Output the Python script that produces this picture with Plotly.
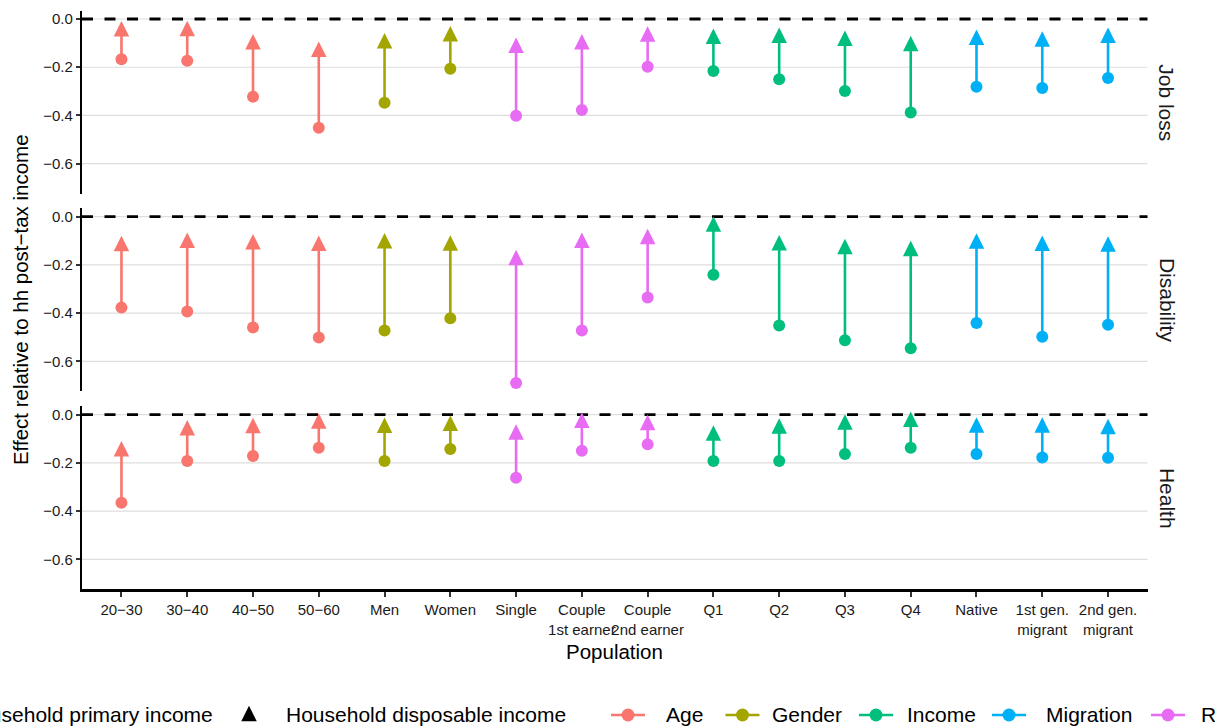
import plotly.graph_objects as go

# ---------------- data ----------------
categories = ["20−30", "30−40", "40−50", "50−60", "Men", "Women", "Single",
              "Couple<br>1st earner", "Couple<br>2nd earner", "Q1", "Q2", "Q3", "Q4",
              "Native", "1st gen.<br>migrant", "2nd gen.<br>migrant"]
groups = ["Age", "Age", "Age", "Age", "Gender", "Gender",
          "Relationship", "Relationship", "Relationship",
          "Income", "Income", "Income", "Income",
          "Migration", "Migration", "Migration"]
facets = ["Job loss", "Disability", "Health"]
group_order = ["Age", "Gender", "Income", "Migration", "Relationship"]
group_colors = ["#F8766D", "#A3A500", "#00BF7D", "#00B0F6", "#E76BF3"]
measure_labels = ["Household primary income", "Household disposable income"]
y_ticks = [-0.6, -0.4, -0.2, 0.0]

primary_job = [-0.167, -0.173, -0.322, -0.451, -0.347, -0.206, -0.401, -0.377,
               -0.198, -0.216, -0.250, -0.299, -0.388, -0.281, -0.286, -0.245]
disposable_job = [-0.051, -0.050, -0.105, -0.136, -0.101, -0.072, -0.119, -0.105,
                  -0.073, -0.082, -0.078, -0.090, -0.112, -0.086, -0.094, -0.078]
primary_dis = [-0.377, -0.393, -0.459, -0.501, -0.472, -0.421, -0.690, -0.472,
               -0.335, -0.241, -0.451, -0.512, -0.546, -0.441, -0.498, -0.448]
disposable_dis = [-0.122, -0.108, -0.115, -0.121, -0.110, -0.120, -0.180, -0.108,
                  -0.093, -0.041, -0.119, -0.134, -0.142, -0.111, -0.121, -0.124]
primary_health = [-0.365, -0.192, -0.171, -0.137, -0.192, -0.142, -0.261, -0.149,
                  -0.123, -0.192, -0.192, -0.163, -0.137, -0.163, -0.177, -0.178]
disposable_health = [-0.152, -0.065, -0.055, -0.037, -0.054, -0.046, -0.082, -0.034,
                     -0.043, -0.087, -0.057, -0.041, -0.029, -0.053, -0.053, -0.060]

primary = [primary_job, primary_dis, primary_health]
disposable = [disposable_job, disposable_dis, disposable_health]

# ---------------- layout constants ----------------
W, H = 1215, 728
PLOT_L, PLOT_R = 82, 1147.5
PANEL_TOPS = [10.7, 208.4, 406.4]
PANEL_H = 183.0
FONT = "Liberation Sans, Arial, Helvetica, sans-serif"
TICK_SIZE = 15
TITLE_SIZE = 20.5
STRIP_SIZE = 21
LEGEND_SIZE = 21
CIRCLE_SIZE = 12
TRI_SIZE = 15.5
SEG_W = 2.6
GRID_COLOR = "#DEDEDE"

color_of = dict(zip(group_order, group_colors))

allv = [v for s in primary + disposable for v in s] + [0.0]
lo, hi = min(allv), max(allv)
pad = 0.05 * (hi - lo)
yrange = [lo - pad, hi + pad]


def axid(letter, n):
    return letter if n == 1 else f"{letter}{n}"


def tri_marker(color, size):
    # filled triangle centred on its centroid (like R's pch 17)
    return dict(symbol="arrow-down", angle=180, standoff=size * 2 / 3,
                size=size, color=color, line=dict(width=0))


fig = go.Figure()

for i in range(3):
    xa, ya = axid("x", i + 1), axid("y", i + 1)
    for g in group_order:
        xs, ys = [], []
        for c, gg, p, d in zip(categories, groups, primary[i], disposable[i]):
            if gg == g:
                xs += [c, c, None]
                ys += [p, d, None]
        fig.add_trace(go.Scatter(x=xs, y=ys, mode="lines", xaxis=xa, yaxis=ya,
                                 line=dict(color=color_of[g], width=SEG_W),
                                 showlegend=False, hoverinfo="skip"))
    cols = [color_of[g] for g in groups]
    fig.add_trace(go.Scatter(x=categories, y=primary[i], mode="markers", xaxis=xa, yaxis=ya,
                             marker=dict(symbol="circle", size=CIRCLE_SIZE, color=cols,
                                         line=dict(width=0)),
                             name=measure_labels[0], showlegend=False))
    fig.add_trace(go.Scatter(x=categories, y=disposable[i], mode="markers", xaxis=xa, yaxis=ya,
                             marker=tri_marker(cols, TRI_SIZE),
                             name=measure_labels[1], showlegend=False))

# ---------------- legend (manual, single row, clipped like the original) ----------------
LEG_Y = 715
circle_key_x, tri_key_x = -70, 249
primary_text_right, disposable_text_left = 215, 284
color_key_x = [628, 742.5, 876, 1009, 1168]
color_text_x = [663.5, 769.5, 905, 1044, 1199]

fig.add_trace(go.Scatter(x=[circle_key_x], y=[LEG_Y], mode="markers", xaxis="x4", yaxis="y4",
                         marker=dict(symbol="circle", size=13, color="black"),
                         showlegend=False, hoverinfo="skip", cliponaxis=False))
fig.add_trace(go.Scatter(x=[tri_key_x], y=[LEG_Y + 1], mode="markers", xaxis="x4", yaxis="y4",
                         marker=tri_marker("black", TRI_SIZE),
                         showlegend=False, hoverinfo="skip", cliponaxis=False))
for g, cx in zip(group_order, color_key_x):
    fig.add_trace(go.Scatter(x=[cx - 17, cx, cx + 17], y=[LEG_Y, LEG_Y, LEG_Y],
                             mode="lines", xaxis="x4", yaxis="y4",
                             line=dict(color=color_of[g], width=SEG_W),
                             showlegend=False, hoverinfo="skip", cliponaxis=False))
    fig.add_trace(go.Scatter(x=[cx], y=[LEG_Y], mode="markers", xaxis="x4", yaxis="y4",
                             marker=dict(symbol="circle", size=13, color=color_of[g]),
                             showlegend=False, hoverinfo="skip", cliponaxis=False))

annotations = []


def ann(text, x, y, size, xanchor="center", angle=0, color="black"):
    annotations.append(dict(text=text, x=x, y=y, xref="x4", yref="y4", showarrow=False,
                            xanchor=xanchor, yanchor="middle", textangle=angle,
                            font=dict(family=FONT, size=size, color=color)))


ann(measure_labels[0], primary_text_right, LEG_Y - 1, LEGEND_SIZE, xanchor="right")
ann(measure_labels[1], disposable_text_left, LEG_Y - 1, LEGEND_SIZE, xanchor="left")
for g, tx in zip(group_order, color_text_x):
    ann(g, tx, LEG_Y - 1, LEGEND_SIZE, xanchor="left")

plot_mid_y = (PANEL_TOPS[0] + PANEL_TOPS[2] + PANEL_H) / 2
ann("Effect relative to hh post−tax income", 20, plot_mid_y, TITLE_SIZE, angle=-90)
ann("Population", (PLOT_L + PLOT_R) / 2, 651, TITLE_SIZE)
for f, top in zip(facets, PANEL_TOPS):
    ann(f, 1167, top + PANEL_H / 2, STRIP_SIZE, angle=90, color="#1A1A1A")

# ---------------- axes ----------------
layout = dict(
    width=W, height=H,
    margin=dict(l=0, r=0, t=0, b=0, pad=0),
    paper_bgcolor="white", plot_bgcolor="rgba(0,0,0,0)",
    showlegend=False,
    font=dict(family=FONT, color="#1A1A1A"),
    annotations=annotations,
    shapes=[],
)

xdom = [PLOT_L / W, PLOT_R / W]
for i, top in enumerate(PANEL_TOPS):
    n = i + 1
    xname, yname = axid("x", n), axid("y", n)
    ydom = [1 - (top + PANEL_H) / H, 1 - top / H]
    last = (i == 2)
    layout[xname.replace("x", "xaxis")] = dict(
        domain=xdom, anchor=yname, type="category",
        categoryorder="array", categoryarray=categories,
        range=[-0.6, len(categories) - 0.4],
        showgrid=False, zeroline=False,
        showline=last, linecolor="black", linewidth=2.5,
        ticks="outside" if last else "", ticklen=5, tickwidth=1.5, tickcolor="#333333",
        showticklabels=last, tickangle=0,
        tickfont=dict(family=FONT, size=TICK_SIZE, color="#1A1A1A"),
        fixedrange=True,
    )
    layout[yname.replace("y", "yaxis")] = dict(
        domain=ydom, anchor=xname, range=yrange,
        tickvals=y_ticks, tickformat=".1f",
        showgrid=False, zeroline=False,
        showline=True, linecolor="black", linewidth=2.2,
        ticks="outside", ticklen=4, tickwidth=1.5, tickcolor="#333333",
        tickfont=dict(family=FONT, size=TICK_SIZE, color="#1A1A1A"),
        fixedrange=True,
    )
    # horizontal grid lines (drawn as shapes so they align exactly with the reference line)
    for tv in y_ticks:
        layout["shapes"].append(dict(type="line", xref=f"{xname} domain", x0=0, x1=1,
                                     yref=yname, y0=tv, y1=tv, layer="below",
                                     line=dict(color=GRID_COLOR, width=1.2)))
    layout["shapes"].append(dict(type="line", xref=f"{xname} domain", x0=0, x1=1,
                                 yref=yname, y0=0, y1=0, layer="below",
                                 line=dict(color="black", width=2.8, dash="11px,11.5px")))

layout["xaxis4"] = dict(domain=[0, 1], anchor="y4", range=[0, W], visible=False, fixedrange=True)
layout["yaxis4"] = dict(domain=[0, 1], anchor="x4", range=[H, 0], visible=False, fixedrange=True)

fig.update_layout(**layout)
fig.write_html("out.html")
